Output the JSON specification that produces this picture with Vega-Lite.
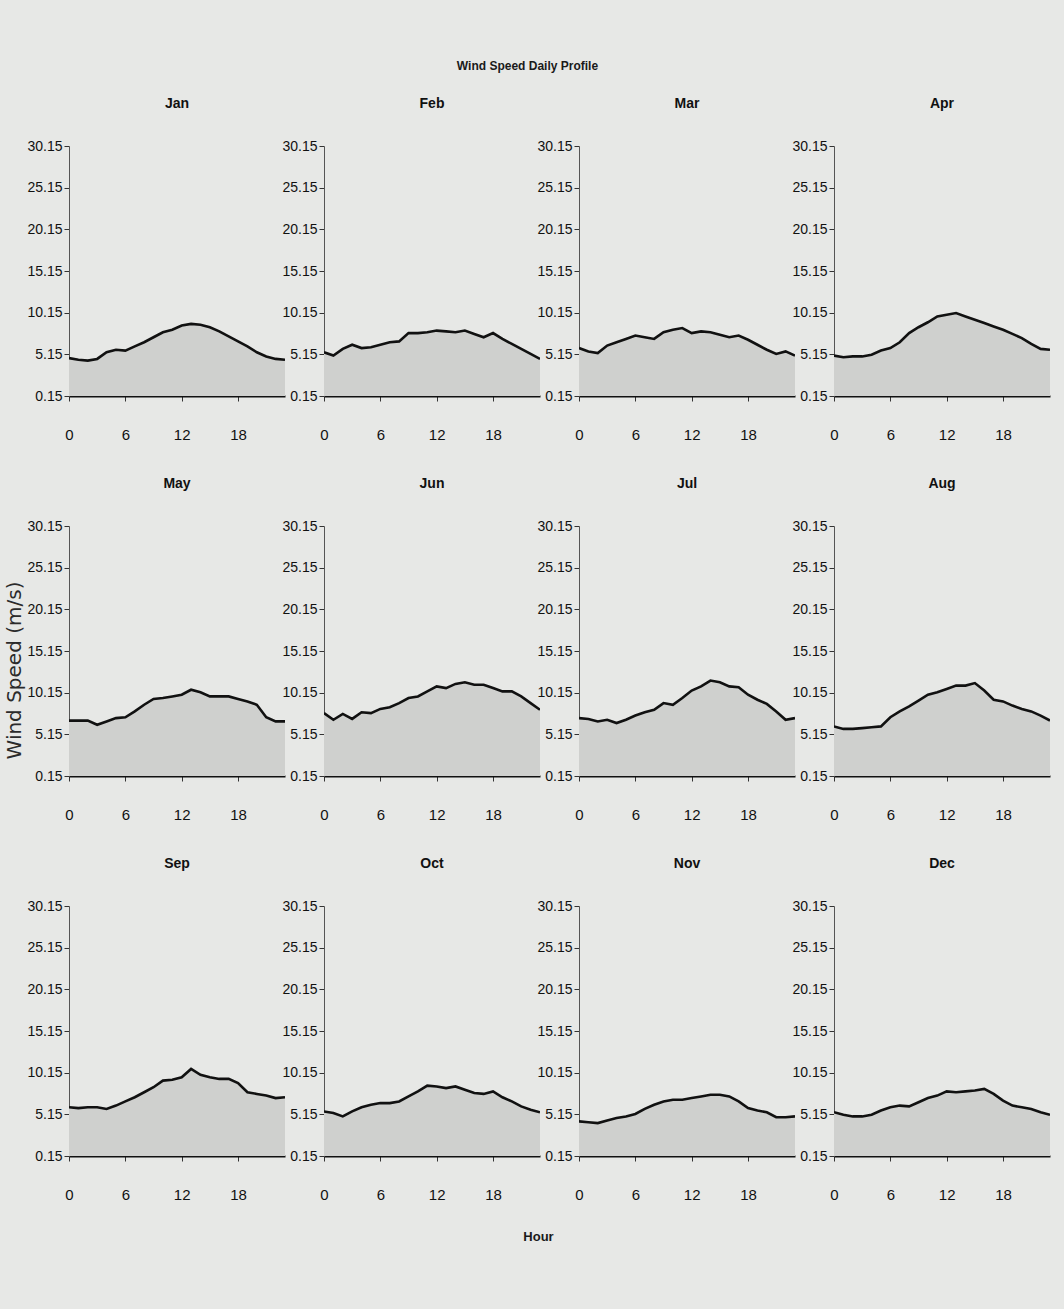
{
  "$schema": "https://vega.github.io/schema/vega-lite/v6.json",
  "background": "#e7e8e6",
  "padding": {"left": 4, "top": 60, "right": 14, "bottom": 66},
  "title": {"text": "Wind Speed Daily Profile", "anchor": "middle", "frame": "bounds", "font": "Liberation Sans", "fontSize": 12, "fontWeight": "bold", "color": "#1a1a1a", "offset": 24},
  "datasets": {
    "wind": [
      {"month":"Jan","hour":0,"speed":4.7},{"month":"Jan","hour":1,"speed":4.5},{"month":"Jan","hour":2,"speed":4.4},{"month":"Jan","hour":3,"speed":4.6},{"month":"Jan","hour":4,"speed":5.4},{"month":"Jan","hour":5,"speed":5.7},{"month":"Jan","hour":6,"speed":5.6},{"month":"Jan","hour":7,"speed":6.1},{"month":"Jan","hour":8,"speed":6.6},{"month":"Jan","hour":9,"speed":7.2},{"month":"Jan","hour":10,"speed":7.8},{"month":"Jan","hour":11,"speed":8.1},{"month":"Jan","hour":12,"speed":8.6},{"month":"Jan","hour":13,"speed":8.8},{"month":"Jan","hour":14,"speed":8.7},{"month":"Jan","hour":15,"speed":8.4},{"month":"Jan","hour":16,"speed":7.9},{"month":"Jan","hour":17,"speed":7.3},{"month":"Jan","hour":18,"speed":6.7},{"month":"Jan","hour":19,"speed":6.1},{"month":"Jan","hour":20,"speed":5.4},{"month":"Jan","hour":21,"speed":4.9},{"month":"Jan","hour":22,"speed":4.6},{"month":"Jan","hour":23,"speed":4.5},
      {"month":"Feb","hour":0,"speed":5.4},{"month":"Feb","hour":1,"speed":5.0},{"month":"Feb","hour":2,"speed":5.8},{"month":"Feb","hour":3,"speed":6.3},{"month":"Feb","hour":4,"speed":5.9},{"month":"Feb","hour":5,"speed":6.0},{"month":"Feb","hour":6,"speed":6.3},{"month":"Feb","hour":7,"speed":6.6},{"month":"Feb","hour":8,"speed":6.7},{"month":"Feb","hour":9,"speed":7.7},{"month":"Feb","hour":10,"speed":7.7},{"month":"Feb","hour":11,"speed":7.8},{"month":"Feb","hour":12,"speed":8.0},{"month":"Feb","hour":13,"speed":7.9},{"month":"Feb","hour":14,"speed":7.8},{"month":"Feb","hour":15,"speed":8.0},{"month":"Feb","hour":16,"speed":7.6},{"month":"Feb","hour":17,"speed":7.2},{"month":"Feb","hour":18,"speed":7.7},{"month":"Feb","hour":19,"speed":7.0},{"month":"Feb","hour":20,"speed":6.4},{"month":"Feb","hour":21,"speed":5.8},{"month":"Feb","hour":22,"speed":5.2},{"month":"Feb","hour":23,"speed":4.6},
      {"month":"Mar","hour":0,"speed":5.9},{"month":"Mar","hour":1,"speed":5.5},{"month":"Mar","hour":2,"speed":5.3},{"month":"Mar","hour":3,"speed":6.2},{"month":"Mar","hour":4,"speed":6.6},{"month":"Mar","hour":5,"speed":7.0},{"month":"Mar","hour":6,"speed":7.4},{"month":"Mar","hour":7,"speed":7.2},{"month":"Mar","hour":8,"speed":7.0},{"month":"Mar","hour":9,"speed":7.8},{"month":"Mar","hour":10,"speed":8.1},{"month":"Mar","hour":11,"speed":8.3},{"month":"Mar","hour":12,"speed":7.7},{"month":"Mar","hour":13,"speed":7.9},{"month":"Mar","hour":14,"speed":7.8},{"month":"Mar","hour":15,"speed":7.5},{"month":"Mar","hour":16,"speed":7.2},{"month":"Mar","hour":17,"speed":7.4},{"month":"Mar","hour":18,"speed":6.9},{"month":"Mar","hour":19,"speed":6.3},{"month":"Mar","hour":20,"speed":5.7},{"month":"Mar","hour":21,"speed":5.2},{"month":"Mar","hour":22,"speed":5.5},{"month":"Mar","hour":23,"speed":5.0},
      {"month":"Apr","hour":0,"speed":5.0},{"month":"Apr","hour":1,"speed":4.8},{"month":"Apr","hour":2,"speed":4.9},{"month":"Apr","hour":3,"speed":4.9},{"month":"Apr","hour":4,"speed":5.1},{"month":"Apr","hour":5,"speed":5.6},{"month":"Apr","hour":6,"speed":5.9},{"month":"Apr","hour":7,"speed":6.6},{"month":"Apr","hour":8,"speed":7.7},{"month":"Apr","hour":9,"speed":8.4},{"month":"Apr","hour":10,"speed":9.0},{"month":"Apr","hour":11,"speed":9.7},{"month":"Apr","hour":12,"speed":9.9},{"month":"Apr","hour":13,"speed":10.1},{"month":"Apr","hour":14,"speed":9.7},{"month":"Apr","hour":15,"speed":9.3},{"month":"Apr","hour":16,"speed":8.9},{"month":"Apr","hour":17,"speed":8.5},{"month":"Apr","hour":18,"speed":8.1},{"month":"Apr","hour":19,"speed":7.6},{"month":"Apr","hour":20,"speed":7.1},{"month":"Apr","hour":21,"speed":6.4},{"month":"Apr","hour":22,"speed":5.8},{"month":"Apr","hour":23,"speed":5.7},
      {"month":"May","hour":0,"speed":6.8},{"month":"May","hour":1,"speed":6.8},{"month":"May","hour":2,"speed":6.8},{"month":"May","hour":3,"speed":6.3},{"month":"May","hour":4,"speed":6.7},{"month":"May","hour":5,"speed":7.1},{"month":"May","hour":6,"speed":7.2},{"month":"May","hour":7,"speed":7.9},{"month":"May","hour":8,"speed":8.7},{"month":"May","hour":9,"speed":9.4},{"month":"May","hour":10,"speed":9.5},{"month":"May","hour":11,"speed":9.7},{"month":"May","hour":12,"speed":9.9},{"month":"May","hour":13,"speed":10.5},{"month":"May","hour":14,"speed":10.2},{"month":"May","hour":15,"speed":9.7},{"month":"May","hour":16,"speed":9.7},{"month":"May","hour":17,"speed":9.7},{"month":"May","hour":18,"speed":9.4},{"month":"May","hour":19,"speed":9.1},{"month":"May","hour":20,"speed":8.7},{"month":"May","hour":21,"speed":7.2},{"month":"May","hour":22,"speed":6.7},{"month":"May","hour":23,"speed":6.7},
      {"month":"Jun","hour":0,"speed":7.7},{"month":"Jun","hour":1,"speed":6.9},{"month":"Jun","hour":2,"speed":7.6},{"month":"Jun","hour":3,"speed":7.0},{"month":"Jun","hour":4,"speed":7.8},{"month":"Jun","hour":5,"speed":7.7},{"month":"Jun","hour":6,"speed":8.2},{"month":"Jun","hour":7,"speed":8.4},{"month":"Jun","hour":8,"speed":8.9},{"month":"Jun","hour":9,"speed":9.5},{"month":"Jun","hour":10,"speed":9.7},{"month":"Jun","hour":11,"speed":10.3},{"month":"Jun","hour":12,"speed":10.9},{"month":"Jun","hour":13,"speed":10.7},{"month":"Jun","hour":14,"speed":11.2},{"month":"Jun","hour":15,"speed":11.4},{"month":"Jun","hour":16,"speed":11.1},{"month":"Jun","hour":17,"speed":11.1},{"month":"Jun","hour":18,"speed":10.7},{"month":"Jun","hour":19,"speed":10.3},{"month":"Jun","hour":20,"speed":10.3},{"month":"Jun","hour":21,"speed":9.7},{"month":"Jun","hour":22,"speed":8.9},{"month":"Jun","hour":23,"speed":8.1},
      {"month":"Jul","hour":0,"speed":7.1},{"month":"Jul","hour":1,"speed":7.0},{"month":"Jul","hour":2,"speed":6.7},{"month":"Jul","hour":3,"speed":6.9},{"month":"Jul","hour":4,"speed":6.5},{"month":"Jul","hour":5,"speed":6.9},{"month":"Jul","hour":6,"speed":7.4},{"month":"Jul","hour":7,"speed":7.8},{"month":"Jul","hour":8,"speed":8.1},{"month":"Jul","hour":9,"speed":8.9},{"month":"Jul","hour":10,"speed":8.7},{"month":"Jul","hour":11,"speed":9.5},{"month":"Jul","hour":12,"speed":10.4},{"month":"Jul","hour":13,"speed":10.9},{"month":"Jul","hour":14,"speed":11.6},{"month":"Jul","hour":15,"speed":11.4},{"month":"Jul","hour":16,"speed":10.9},{"month":"Jul","hour":17,"speed":10.8},{"month":"Jul","hour":18,"speed":9.9},{"month":"Jul","hour":19,"speed":9.3},{"month":"Jul","hour":20,"speed":8.8},{"month":"Jul","hour":21,"speed":7.9},{"month":"Jul","hour":22,"speed":6.9},{"month":"Jul","hour":23,"speed":7.1},
      {"month":"Aug","hour":0,"speed":6.1},{"month":"Aug","hour":1,"speed":5.8},{"month":"Aug","hour":2,"speed":5.8},{"month":"Aug","hour":3,"speed":5.9},{"month":"Aug","hour":4,"speed":6.0},{"month":"Aug","hour":5,"speed":6.1},{"month":"Aug","hour":6,"speed":7.2},{"month":"Aug","hour":7,"speed":7.9},{"month":"Aug","hour":8,"speed":8.5},{"month":"Aug","hour":9,"speed":9.2},{"month":"Aug","hour":10,"speed":9.9},{"month":"Aug","hour":11,"speed":10.2},{"month":"Aug","hour":12,"speed":10.6},{"month":"Aug","hour":13,"speed":11.0},{"month":"Aug","hour":14,"speed":11.0},{"month":"Aug","hour":15,"speed":11.3},{"month":"Aug","hour":16,"speed":10.4},{"month":"Aug","hour":17,"speed":9.3},{"month":"Aug","hour":18,"speed":9.1},{"month":"Aug","hour":19,"speed":8.6},{"month":"Aug","hour":20,"speed":8.2},{"month":"Aug","hour":21,"speed":7.9},{"month":"Aug","hour":22,"speed":7.4},{"month":"Aug","hour":23,"speed":6.8},
      {"month":"Sep","hour":0,"speed":6.0},{"month":"Sep","hour":1,"speed":5.9},{"month":"Sep","hour":2,"speed":6.0},{"month":"Sep","hour":3,"speed":6.0},{"month":"Sep","hour":4,"speed":5.8},{"month":"Sep","hour":5,"speed":6.2},{"month":"Sep","hour":6,"speed":6.7},{"month":"Sep","hour":7,"speed":7.2},{"month":"Sep","hour":8,"speed":7.8},{"month":"Sep","hour":9,"speed":8.4},{"month":"Sep","hour":10,"speed":9.2},{"month":"Sep","hour":11,"speed":9.3},{"month":"Sep","hour":12,"speed":9.6},{"month":"Sep","hour":13,"speed":10.6},{"month":"Sep","hour":14,"speed":9.9},{"month":"Sep","hour":15,"speed":9.6},{"month":"Sep","hour":16,"speed":9.4},{"month":"Sep","hour":17,"speed":9.4},{"month":"Sep","hour":18,"speed":8.9},{"month":"Sep","hour":19,"speed":7.8},{"month":"Sep","hour":20,"speed":7.6},{"month":"Sep","hour":21,"speed":7.4},{"month":"Sep","hour":22,"speed":7.1},{"month":"Sep","hour":23,"speed":7.2},
      {"month":"Oct","hour":0,"speed":5.5},{"month":"Oct","hour":1,"speed":5.3},{"month":"Oct","hour":2,"speed":4.9},{"month":"Oct","hour":3,"speed":5.5},{"month":"Oct","hour":4,"speed":6.0},{"month":"Oct","hour":5,"speed":6.3},{"month":"Oct","hour":6,"speed":6.5},{"month":"Oct","hour":7,"speed":6.5},{"month":"Oct","hour":8,"speed":6.7},{"month":"Oct","hour":9,"speed":7.3},{"month":"Oct","hour":10,"speed":7.9},{"month":"Oct","hour":11,"speed":8.6},{"month":"Oct","hour":12,"speed":8.5},{"month":"Oct","hour":13,"speed":8.3},{"month":"Oct","hour":14,"speed":8.5},{"month":"Oct","hour":15,"speed":8.1},{"month":"Oct","hour":16,"speed":7.7},{"month":"Oct","hour":17,"speed":7.6},{"month":"Oct","hour":18,"speed":7.9},{"month":"Oct","hour":19,"speed":7.2},{"month":"Oct","hour":20,"speed":6.7},{"month":"Oct","hour":21,"speed":6.1},{"month":"Oct","hour":22,"speed":5.7},{"month":"Oct","hour":23,"speed":5.4},
      {"month":"Nov","hour":0,"speed":4.3},{"month":"Nov","hour":1,"speed":4.2},{"month":"Nov","hour":2,"speed":4.1},{"month":"Nov","hour":3,"speed":4.4},{"month":"Nov","hour":4,"speed":4.7},{"month":"Nov","hour":5,"speed":4.9},{"month":"Nov","hour":6,"speed":5.2},{"month":"Nov","hour":7,"speed":5.8},{"month":"Nov","hour":8,"speed":6.3},{"month":"Nov","hour":9,"speed":6.7},{"month":"Nov","hour":10,"speed":6.9},{"month":"Nov","hour":11,"speed":6.9},{"month":"Nov","hour":12,"speed":7.1},{"month":"Nov","hour":13,"speed":7.3},{"month":"Nov","hour":14,"speed":7.5},{"month":"Nov","hour":15,"speed":7.5},{"month":"Nov","hour":16,"speed":7.3},{"month":"Nov","hour":17,"speed":6.7},{"month":"Nov","hour":18,"speed":5.9},{"month":"Nov","hour":19,"speed":5.6},{"month":"Nov","hour":20,"speed":5.4},{"month":"Nov","hour":21,"speed":4.8},{"month":"Nov","hour":22,"speed":4.8},{"month":"Nov","hour":23,"speed":4.9},
      {"month":"Dec","hour":0,"speed":5.4},{"month":"Dec","hour":1,"speed":5.1},{"month":"Dec","hour":2,"speed":4.9},{"month":"Dec","hour":3,"speed":4.9},{"month":"Dec","hour":4,"speed":5.1},{"month":"Dec","hour":5,"speed":5.6},{"month":"Dec","hour":6,"speed":6.0},{"month":"Dec","hour":7,"speed":6.2},{"month":"Dec","hour":8,"speed":6.1},{"month":"Dec","hour":9,"speed":6.6},{"month":"Dec","hour":10,"speed":7.1},{"month":"Dec","hour":11,"speed":7.4},{"month":"Dec","hour":12,"speed":7.9},{"month":"Dec","hour":13,"speed":7.8},{"month":"Dec","hour":14,"speed":7.9},{"month":"Dec","hour":15,"speed":8.0},{"month":"Dec","hour":16,"speed":8.2},{"month":"Dec","hour":17,"speed":7.6},{"month":"Dec","hour":18,"speed":6.8},{"month":"Dec","hour":19,"speed":6.2},{"month":"Dec","hour":20,"speed":6.0},{"month":"Dec","hour":21,"speed":5.8},{"month":"Dec","hour":22,"speed":5.4},{"month":"Dec","hour":23,"speed":5.1}
    ]
  },
  "data": {"name": "wind"},
  "vconcat": [
    {
      "title": {"text": "Wind Speed (m/s)", "orient": "left", "anchor": "middle", "frame": "bounds", "font": "DejaVu Sans", "fontSize": 20, "fontWeight": "normal", "color": "#2b2b2b", "offset": 2},
      "vconcat": [
        {
          "title": {"text": "Hour", "orient": "bottom", "anchor": "middle", "frame": "bounds", "font": "Liberation Sans", "fontSize": 13, "fontWeight": "bold", "color": "#1a1a1a", "offset": 29},
          "facet": {
            "field": "month", "type": "nominal",
            "sort": ["Jan","Feb","Mar","Apr","May","Jun","Jul","Aug","Sep","Oct","Nov","Dec"],
            "title": null,
            "header": {"labelFont": "Liberation Sans", "labelFontSize": 14, "labelFontWeight": "bold", "labelColor": "#111111", "labelPadding": 28}
          },
          "columns": 4,
          "bounds": "flush",
          "spacing": {"column": 39, "row": 130},
          "resolve": {"axis": {"x": "independent", "y": "independent"}},
          "spec": {
            "width": 216,
            "height": 250,
            "mark": {"type": "area", "color": "#cfd0ce", "opacity": 1, "line": {"color": "#111111", "strokeWidth": 2.6}, "clip": true},
            "encoding": {
              "x": {"field": "hour", "type": "quantitative", "scale": {"domain": [0, 23], "nice": false, "zero": false},
                    "axis": {"values": [0, 6, 12, 18], "title": null, "labelFlush": false, "labelPadding": 26, "tickSize": 5, "domainWidth": 2, "domainColor": "#111111", "tickColor": "#333333", "labelFont": "Liberation Sans", "labelFontSize": 15, "labelColor": "#111111", "grid": false}},
              "y": {"field": "speed", "type": "quantitative", "scale": {"domain": [0.15, 30.15], "nice": false, "zero": false},
                    "axis": {"values": [0.15, 5.15, 10.15, 15.15, 20.15, 25.15, 30.15], "format": ".2f", "title": null, "labelPadding": 2, "tickSize": 5, "domainWidth": 1, "domainColor": "#555555", "tickColor": "#333333", "labelFont": "Liberation Sans", "labelFontSize": 14, "labelColor": "#111111", "grid": false}}
            }
          }
        }
      ]
    }
  ],
  "config": {"view": {"stroke": null}}
}
